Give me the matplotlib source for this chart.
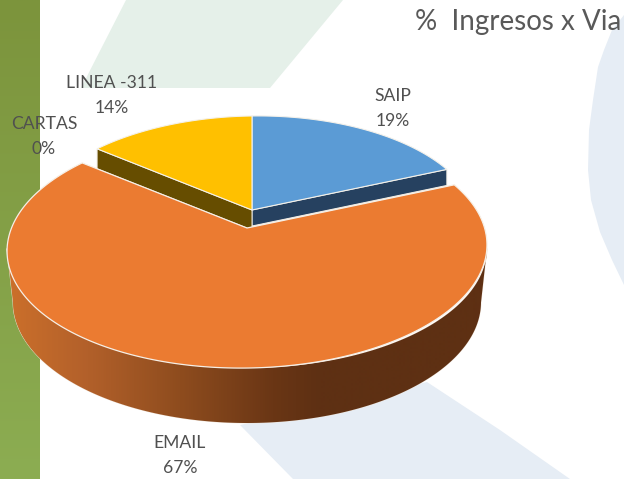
import numpy as np
import matplotlib
matplotlib.use("Agg")
import matplotlib.pyplot as plt
from matplotlib.colors import LinearSegmentedColormap
from matplotlib.patches import Polygon

plt.rcParams['font.family'] = ['Lato', 'DejaVu Sans']

categories = ["SAIP", "EMAIL", "CARTAS", "LINEA -311"]
values = [19, 67, 0, 14]
percent_labels = ["19%", "67%", "0%", "14%"]
title = "%  Ingresos x Via"

top_colors = {"SAIP": "#5B9BD5", "EMAIL": "#EB7B31", "LINEA -311": "#FFC000"}
wall_colors = {"SAIP": "#264160", "LINEA -311": "#664D00"}
wall_depth = {"SAIP": 16, "LINEA -311": 20}
label_pos = {"SAIP": (393, 96), "EMAIL": (180, 443), "CARTAS": (44, 124), "LINEA -311": (112, 83)}

W, H = 624, 479
fig = plt.figure(figsize=(W / 100, H / 100), dpi=100)
ax = fig.add_axes([0, 0, 1, 1])
ax.set_axis_off()

# background decoration
gcmap = LinearSegmentedColormap.from_list("g", ["#7C943C", "#8CAD52"])
ax.imshow(np.linspace(0, 1, 256)[:, None], extent=(0, 40, H, 0), cmap=gcmap, aspect="auto", zorder=1)
ax.add_patch(Polygon([(126, 0), (343, 0), (270, 88), (81, 88)], fc="#E5F0E9", ec="none", zorder=0))
ax.add_patch(Polygon([(240, 425), (427, 382), (500, 430), (570, 479), (293, 479)], fc="#E6EDF5", ec="none", zorder=0))
ax.add_patch(Polygon([(624, 15), (624, 285), (612, 260), (600, 232), (591, 200), (588, 170), (589, 130),
                      (593, 100), (598, 67), (604, 50), (612, 30)], fc="#E6EDF5", ec="none", zorder=0))

# perspective projection of a circle: theta clockwise from 12 o'clock
K = 1 / 6
A, B = 236.6, 116.7
TILT = 0.013


def proj(theta, cx, cy, s=1.0):
    u, v = np.sin(theta), np.cos(theta)
    w = 1 + K * v
    dx = s * A * u / w
    return cx + dx, cy - s * B * v / w - TILT * dx


fracs = np.array(values, dtype=float) / sum(values)
edges = np.concatenate([[0], np.cumsum(fracs)]) * 2 * np.pi
spans = {c: (edges[i], edges[i + 1]) for i, c in enumerate(categories)}

# blue + yellow slices (pulled back)
SX, SY, SS = 252, 210, 0.94
for cat, edge_i in (("SAIP", 1), ("LINEA -311", 0)):
    t0, t1 = spans[cat]
    th = np.linspace(t0, t1, 120)
    x, y = proj(th, SX, SY, SS)
    ex, ey = (x[-1], y[-1]) if edge_i == 1 else (x[0], y[0])
    d = wall_depth[cat]
    ax.add_patch(Polygon([(SX, SY), (ex, ey), (ex, ey + d), (SX, SY + d)],
                         fc=wall_colors[cat], ec="#F2EDE4", lw=0.7, zorder=3))
    ax.add_patch(Polygon(np.r_[[(SX, SY)], np.c_[x, y]], fc=top_colors[cat], ec="#F4F1EA", lw=0.8, zorder=4))

# orange slice with gradient wall
OX, OY = 247, 228
t0, t1 = spans["EMAIL"]
th = np.linspace(t0, t1, 400)
x, y = proj(th, OX, OY)

tt = np.linspace(0, 2 * np.pi, 400)
tx, ty = 247 + 240 * np.sin(tt), 248 - 120 * np.cos(tt)
bx, by = 247 + 234 * np.sin(tt), 302 - 121 * np.cos(tt)
mt = (tt >= np.pi / 2) & (tt <= 3 * np.pi / 2)
wall = np.r_[np.c_[tx[mt], ty[mt]], np.c_[bx[mt][::-1], by[mt][::-1]]]
wall_poly = Polygon(wall, fc="none", ec="#F0E4D8", lw=0.6, zorder=5, transform=ax.transData)
ax.add_patch(wall_poly)
wcmap = LinearSegmentedColormap.from_list(
    "w", [(0, "#CB6F2B"), (0.25, "#B2602A"), (0.55, "#8E4C1E"), (0.85, "#6A3615"), (1, "#5E3013")])
grad = np.clip((np.linspace(0, 487, 488) - 10) / 310, 0, 1)[None, :]
im = ax.imshow(grad, extent=(0, 487, H, 0), cmap=wcmap, vmin=0, vmax=1, aspect="auto", zorder=5)
im.set_clip_path(wall_poly)
ax.add_patch(Polygon(np.r_[[(OX, OY)], np.c_[x, y]], fc=top_colors["EMAIL"], ec="#F6EFE6", lw=0.9, zorder=6))

ax.set_xlim(0, W)
ax.set_ylim(H, 0)

# labels
for cat, pct in zip(categories, percent_labels):
    lx, ly = label_pos[cat]
    ax.text(lx, ly, cat, ha="center", va="center", fontsize=12.6, color="#505050", zorder=8)
    ax.text(lx, ly + 25, pct, ha="center", va="center", fontsize=12.6, color="#505050", zorder=8)
ax.text(415, 22, title, ha="left", va="center", fontsize=20, color="#595959", zorder=8)

fig.savefig("out.png", dpi=100)
